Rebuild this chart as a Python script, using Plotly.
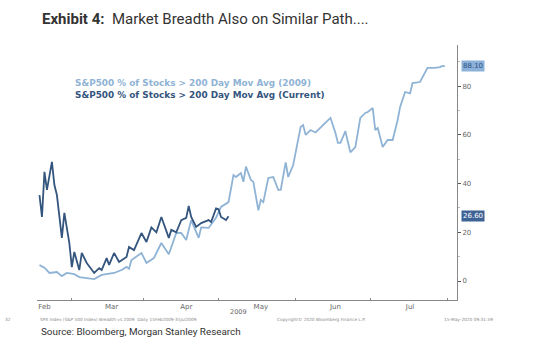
import plotly.graph_objects as go

# ---- data ----
dates_2009 = ["2009-02-02","2009-02-04","2009-02-06","2009-02-09","2009-02-11","2009-02-13","2009-02-16",
    "2009-02-18","2009-02-21","2009-02-24","2009-02-27","2009-03-02","2009-03-04","2009-03-07","2009-03-09",
    "2009-03-10","2009-03-11","2009-03-15","2009-03-17","2009-03-20","2009-03-23","2009-03-26","2009-03-29",
    "2009-03-31","2009-04-02","2009-04-04","2009-04-07","2009-04-08","2009-04-11","2009-04-14","2009-04-16",
    "2009-04-19","2009-04-21","2009-04-22","2009-04-24","2009-04-25","2009-04-26","2009-04-28","2009-04-29",
    "2009-05-01","2009-05-02","2009-05-03","2009-05-05","2009-05-07","2009-05-09","2009-05-10","2009-05-12",
    "2009-05-13","2009-05-15","2009-05-18","2009-05-19","2009-05-20","2009-05-22","2009-05-24","2009-05-26",
    "2009-05-28","2009-05-30","2009-06-01","2009-06-02","2009-06-03","2009-06-05","2009-06-07","2009-06-09",
    "2009-06-11","2009-06-13","2009-06-14","2009-06-16","2009-06-17","2009-06-18","2009-06-20","2009-06-22",
    "2009-06-24","2009-06-26","2009-06-27","2009-06-29","2009-07-01","2009-07-02","2009-07-05","2009-07-07",
    "2009-07-08","2009-07-11","2009-07-13","2009-07-14","2009-07-15"]
values_2009 = [6.5,5.5,3.3,3.7,2.0,3.3,2.8,
    1.6,1.2,0.8,2.5,3.0,3.3,4.5,5.8,
    5.0,8.6,11.5,7.4,9.4,15.6,11.0,19.7,
    19.7,16.8,25.0,17.7,22.0,21.8,26.0,30.4,
    32.4,43.5,42.7,44.3,40.7,47.0,41.5,40.7,
    29.0,33.3,32.4,42.3,42.7,37.4,37.4,48.7,
    42.7,47.6,63.2,64.0,60.0,62.0,61.0,63.0,
    64.9,67.0,60.8,56.7,56.7,61.5,52.8,55.0,
    67.0,69.0,69.4,71.0,62.0,62.8,55.0,57.9,
    57.9,66.0,71.5,77.6,77.0,81.3,81.7,85.8,
    87.5,87.5,87.8,88.3,88.1]

dates_current = ["2009-02-02","2009-02-03","2009-02-04","2009-02-05","2009-02-07","2009-02-08","2009-02-09",
    "2009-02-11","2009-02-12","2009-02-14","2009-02-15","2009-02-16","2009-02-18","2009-02-19","2009-02-21",
    "2009-02-24","2009-02-26","2009-02-27","2009-03-01","2009-03-02","2009-03-04","2009-03-06","2009-03-09",
    "2009-03-10","2009-03-12","2009-03-15","2009-03-17","2009-03-19","2009-03-21","2009-03-23","2009-03-26",
    "2009-03-27","2009-03-29","2009-03-31","2009-04-02","2009-04-03","2009-04-04","2009-04-06","2009-04-08",
    "2009-04-11","2009-04-12","2009-04-14","2009-04-15","2009-04-16","2009-04-18","2009-04-19"]
values_current = [35.3,26.3,44.8,37.4,48.9,39.4,35.3,
    17.7,28.0,15.6,5.7,11.9,4.5,11.5,7.4,
    3.3,5.3,4.5,9.4,6.6,11.5,7.8,9.9,
    14.0,12.7,19.7,16.0,22.0,20.0,26.3,17.7,
    21.0,20.0,25.0,25.9,30.8,26.3,22.2,23.8,
    25.0,24.2,29.8,29.5,26.3,25.0,26.6]

month_ticks = ["2009-02-04","2009-03-03","2009-04-02","2009-05-02","2009-06-01","2009-07-01"]
month_labels = ["Feb","Mar","Apr","May","Jun","Jul"]
mid_month_ticks = ["2009-02-15","2009-03-16","2009-04-15","2009-05-16","2009-06-15","2009-07-16"]

last_2009 = "88.10"
last_current = "26.60"

LIGHT = "#8fb3d5"
DARK = "#34557e"
GRAY = "#666666"

# layout geometry (pixels)
W, H = 550, 353
L, R, T, B = 37, 457, 45, 300
def px(x): return (x - L) / (R - L)
def py(y): return (B - y) / (B - T)

fig = go.Figure()
fig.add_trace(go.Scatter(x=dates_2009, y=values_2009, mode="lines",
                         line=dict(color=LIGHT, width=1.8), showlegend=False, xaxis="x", yaxis="y"))
fig.add_trace(go.Scatter(x=dates_current, y=values_current, mode="lines",
                         line=dict(color=DARK, width=1.8), showlegend=False, xaxis="x", yaxis="y"))
# invisible trace to carry the minor tick axis
fig.add_trace(go.Scatter(x=[dates_2009[0]], y=[values_2009[0]], mode="markers",
                         marker=dict(opacity=0), showlegend=False, hoverinfo="skip",
                         xaxis="x2", yaxis="y"))

xr = ["2009-02-01", "2009-07-19 21:00"]
fig.update_layout(
    width=W, height=H,
    margin=dict(l=L, r=W - R, t=T, b=H - B),
    paper_bgcolor="white", plot_bgcolor="white",
    xaxis=dict(type="date", range=xr, tickvals=month_ticks, ticktext=month_labels,
               showgrid=False, zeroline=False, showline=True, linecolor="#888888", linewidth=1,
               ticks="", tickfont=dict(family="DejaVu Sans", size=7, color=GRAY)),
    xaxis2=dict(type="date", range=xr, overlaying="x", side="bottom", tickvals=mid_month_ticks,
                showticklabels=False, ticks="inside", ticklen=2, tickcolor="#888888",
                showgrid=False, zeroline=False, showline=False),
    yaxis=dict(range=[-7.8, 96.9], side="right", tickvals=[0, 20, 40, 60, 80],
               showgrid=False, zeroline=False, showline=True, linecolor="#888888", linewidth=1,
               ticks="outside", ticklen=3, tickcolor="#555555",
               minor=dict(dtick=10, ticks="outside", ticklen=2, tickcolor="#bbbbbb"),
               tickfont=dict(family="DejaVu Sans", size=7, color=GRAY)),
)

ann = []
# title
ann.append(dict(x=px(40), y=py(19), xref="paper", yref="paper", xanchor="left", yanchor="middle",
                text="<b>Exhibit 4:</b>  Market Breadth Also on Similar Path....", showarrow=False,
                font=dict(family="Roboto", size=15, color="#333333")))
# legend text
ann.append(dict(x=px(73), y=py(83), xref="paper", yref="paper", xanchor="left", yanchor="middle",
                text="<b>S&P500 % of Stocks > 200 Day Mov Avg (2009)</b>", showarrow=False,
                font=dict(family="DejaVu Sans", size=8.9, color=LIGHT)))
ann.append(dict(x=px(73), y=py(95), xref="paper", yref="paper", xanchor="left", yanchor="middle",
                text="<b>S&P500 % of Stocks > 200 Day Mov Avg (Current)</b>", showarrow=False,
                font=dict(family="DejaVu Sans", size=8.9, color=DARK)))
# last value tags
ann.append(dict(x=px(461), y=values_2009[-1], xref="paper", yref="y", xanchor="left", yanchor="middle",
                text=last_2009, showarrow=False, bgcolor="#8cb2da", borderpad=1,
                font=dict(family="DejaVu Sans", size=7, color="#2c4f80")))
ann.append(dict(x=px(461), y=values_current[-1], xref="paper", yref="y", xanchor="left", yanchor="middle",
                text=last_current, showarrow=False, bgcolor="#3d6294", borderpad=1,
                font=dict(family="DejaVu Sans", size=7, color="white")))
# year label
ann.append(dict(x=px(238), y=py(312), xref="paper", yref="paper", xanchor="center", yanchor="middle",
                text="2009", showarrow=False, font=dict(family="DejaVu Sans", size=6.5, color=GRAY)))
# footer
ann.append(dict(x=px(38), y=py(319), xref="paper", yref="paper", xanchor="left", yanchor="middle",
                text="SPX Index (S&P 500 Index) Breadth vs 2009  Daily 15Feb2009-31Jul2009", showarrow=False,
                font=dict(family="DejaVu Sans", size=4.3, color="#888888")))
ann.append(dict(x=px(275), y=py(319), xref="paper", yref="paper", xanchor="left", yanchor="middle",
                text="Copyright© 2020 Bloomberg Finance L.P.", showarrow=False,
                font=dict(family="DejaVu Sans", size=4.3, color="#888888")))
ann.append(dict(x=px(442), y=py(319), xref="paper", yref="paper", xanchor="left", yanchor="middle",
                text="15-May-2020 09:31:59", showarrow=False,
                font=dict(family="DejaVu Sans", size=4.3, color="#888888")))
ann.append(dict(x=px(3), y=py(319), xref="paper", yref="paper", xanchor="left", yanchor="middle",
                text="32", showarrow=False, font=dict(family="DejaVu Sans", size=4.3, color="#888888")))
# source
ann.append(dict(x=px(39), y=py(331), xref="paper", yref="paper", xanchor="left", yanchor="middle",
                text="Source: Bloomberg, Morgan Stanley Research", showarrow=False,
                font=dict(family="Roboto", size=9.9, color="#333333")))
fig.update_layout(annotations=ann)

fig.write_html("out.html")
